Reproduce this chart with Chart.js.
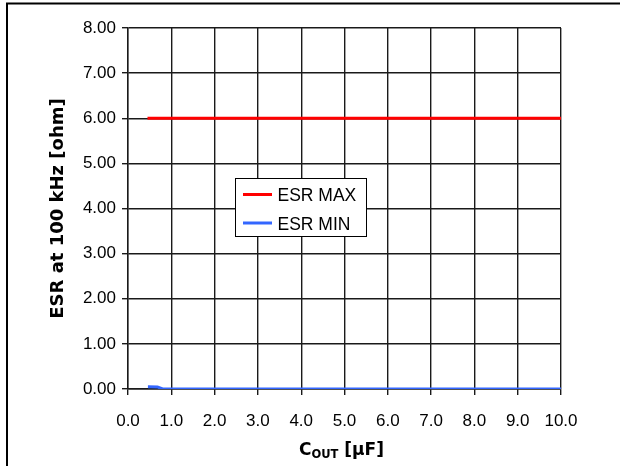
<!DOCTYPE html>
<html>
<head>
<meta charset="utf-8">
<script src="https://cdn.jsdelivr.net/npm/chart.js@4/dist/chart.umd.min.js"></script>
<style>
html,body{margin:0;padding:0;background:#fff;}
#wrap{position:relative;width:620px;height:466px;}
</style>
</head>
<body>
<div id="wrap"><canvas id="c" width="620" height="466"></canvas></div>
<script>
// Data
const seriesNames = ['ESR MAX', 'ESR MIN'];
const esrMaxX = [0.45, 10];
const esrMaxY = [6.0, 6.0];
const esrMinX = [0.46, 0.68, 0.8, 10];
const esrMinY = [0.05, 0.045, 0.0, 0.0];
const xTicks = [0,1,2,3,4,5,6,7,8,9,10];
const yTicks = [0,1,2,3,4,5,6,7,8];
const xTitleMain = 'C';
const xTitleSub = 'OUT';
const xTitleRest = ' [µF]';
const yTitle = 'ESR at 100 kHz [ohm]';

const FONT = "'Liberation Sans', Arial, sans-serif";
const TFONT = "'DejaVu Sans', 'Liberation Sans', Arial, sans-serif";

const toPts = (xs, ys) => xs.map((x, i) => ({x: x, y: ys[i]}));

const framePlugin = {
  id: 'frame',
  afterDraw(chart) {
    const ctx = chart.ctx;
    ctx.save();
    ctx.strokeStyle = '#000';
    ctx.lineWidth = 2;
    ctx.beginPath();
    ctx.moveTo(7, 466);
    ctx.lineTo(7, 3.5);
    ctx.lineTo(620, 3.5);
    ctx.stroke();
    ctx.restore();
  }
};

const legendPlugin = {
  id: 'boxLegend',
  afterDraw(chart) {
    const ctx = chart.ctx;
    const a = chart.chartArea;
    const bx = a.left + 107.5, by = a.top + 150.5, bw = 131, bh = 58;
    ctx.save();
    ctx.fillStyle = '#fff';
    ctx.fillRect(bx, by, bw, bh);
    ctx.strokeStyle = '#000';
    ctx.lineWidth = 1;
    ctx.strokeRect(bx, by, bw, bh);
    chart.data.datasets.forEach((ds, i) => {
      const y = by + 16 + i * 28.5;
      ctx.strokeStyle = ds.borderColor;
      ctx.lineWidth = 3;
      ctx.beginPath();
      ctx.moveTo(bx + 7.5, y);
      ctx.lineTo(bx + 36.5, y);
      ctx.stroke();
      ctx.fillStyle = '#000';
      ctx.font = "17.5px " + FONT;
      ctx.textBaseline = 'middle';
      ctx.textAlign = 'left';
      ctx.fillText(ds.label, bx + 42, y + 2);
    });
    ctx.restore();
  }
};

const xTitlePlugin = {
  id: 'xTitle',
  afterDraw(chart) {
    const ctx = chart.ctx;
    const a = chart.chartArea;
    ctx.save();
    ctx.fillStyle = '#000';
    ctx.textBaseline = 'alphabetic';
    ctx.textAlign = 'left';
    const big = "bold 17px " + TFONT, small = "bold 11.5px " + TFONT;
    ctx.font = big; const w1 = ctx.measureText(xTitleMain).width;
    ctx.font = small; const w2 = ctx.measureText(xTitleSub).width;
    ctx.font = big; const w3 = ctx.measureText(xTitleRest).width;
    const total = w1 + w2 + w3;
    let x = (a.left + a.right) / 2 - 3 - total / 2;
    const base = 455;
    ctx.font = big; ctx.fillText(xTitleMain, x, base); x += w1;
    ctx.font = small; ctx.fillText(xTitleSub, x, base + 3); x += w2;
    ctx.font = big; ctx.fillText(xTitleRest, x, base);
    ctx.restore();
  }
};

new Chart(document.getElementById('c'), {
  type: 'scatter',
  data: {
    datasets: [
      {label: seriesNames[0], data: toPts(esrMaxX, esrMaxY), showLine: true,
       borderColor: '#FF0000', backgroundColor: '#FF0000', borderWidth: 3,
       pointRadius: 0, tension: 0},
      {label: seriesNames[1], data: toPts(esrMinX, esrMinY), showLine: true,
       borderColor: '#3366FF', backgroundColor: '#3366FF', borderWidth: 3,
       pointRadius: 0, tension: 0}
    ]
  },
  options: {
    responsive: false,
    animation: false,
    devicePixelRatio: 1,
    layout: {padding: {left: 0, right: 59, top: 28, bottom: 0}},
    plugins: {legend: {display: false}, tooltip: {enabled: false}},
    scales: {
      x: {
        type: 'linear', min: 0, max: 10,
        afterBuildTicks: s => { s.ticks = xTicks.map(v => ({value: v})); },
        afterFit: s => { s.height = 77; },
        grid: {color: '#1a1a1a', lineWidth: 1.4, tickLength: 6, drawTicks: true},
        border: {color: '#1a1a1a', width: 1.4},
        ticks: {color: '#000', font: {family: FONT, size: 17}, padding: 16,
                maxRotation: 0, autoSkip: false,
                callback: v => Number(v).toFixed(1)},
        title: {display: false}
      },
      y: {
        type: 'linear', min: 0, max: 8,
        afterBuildTicks: s => { s.ticks = yTicks.map(v => ({value: v})); },
        afterFit: s => { s.width = 128; },
        grid: {color: '#1a1a1a', lineWidth: 1.4, tickLength: 6, drawTicks: true},
        border: {color: '#1a1a1a', width: 1.4},
        ticks: {color: '#000', font: {family: FONT, size: 17}, padding: 6,
                autoSkip: false, callback: v => Number(v).toFixed(2)},
        title: {display: true, text: yTitle, color: '#000',
                font: {family: TFONT, size: 18, weight: 'bold'},
                padding: {top: 48, bottom: 0}}
      }
    }
  },
  plugins: [framePlugin, legendPlugin, xTitlePlugin]
});
</script>
</body>
</html>
